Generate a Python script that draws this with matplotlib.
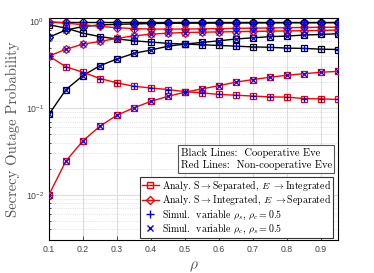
import matplotlib
matplotlib.use("Agg")
import matplotlib.pyplot as plt
import numpy as np
from matplotlib.lines import Line2D

plt.rcParams['mathtext.fontset'] = 'cm'
plt.rcParams['font.family'] = ['Liberation Sans', 'DejaVu Sans']

rho = [0.1, 0.15, 0.2, 0.25, 0.3, 0.35, 0.4, 0.45, 0.5, 0.55, 0.6, 0.65, 0.7, 0.75, 0.8, 0.85, 0.9, 0.95]

# Non-cooperative Eve (red)
red_sq_var_rc = [0.010, 0.0246, 0.042, 0.062, 0.083, 0.101, 0.120, 0.137, 0.153, 0.167, 0.182, 0.200, 0.214, 0.228, 0.240, 0.250, 0.260, 0.266]
red_sq_var_rs = [0.40, 0.30, 0.26, 0.22, 0.196, 0.179, 0.171, 0.164, 0.155, 0.150, 0.144, 0.141, 0.138, 0.135, 0.134, 0.129, 0.128, 0.126]
red_di_var_rc = [0.40, 0.48, 0.55, 0.59, 0.64, 0.685, 0.716, 0.735, 0.748, 0.755, 0.76, 0.765, 0.77, 0.775, 0.78, 0.785, 0.79, 0.80]
red_di_var_rs = [1.00, 0.96, 0.92, 0.88, 0.85, 0.83, 0.82, 0.82, 0.82, 0.825, 0.83, 0.835, 0.84, 0.845, 0.85, 0.855, 0.86, 0.86]

# Cooperative Eve (black)
blk_sq_var_rc = [0.085, 0.164, 0.238, 0.31, 0.37, 0.43, 0.47, 0.52, 0.55, 0.575, 0.60, 0.63, 0.65, 0.67, 0.68, 0.70, 0.71, 0.725]
blk_sq_var_rs = [0.92, 0.84, 0.735, 0.67, 0.63, 0.60, 0.58, 0.56, 0.55, 0.54, 0.53, 0.52, 0.51, 0.505, 0.494, 0.49, 0.48, 0.476]
blk_di_var_rc = [0.66, 0.80, 0.877, 0.915, 0.93, 0.94, 0.95, 0.955, 0.96, 0.96, 0.962, 0.964, 0.966, 0.968, 0.97, 0.97, 0.972, 0.972]
blk_di_var_rs = [1.0, 1.0, 1.0, 1.0, 1.0, 1.0, 1.0, 1.0, 1.0, 1.0, 1.0, 1.0, 1.0, 1.0, 1.0, 1.0, 1.0, 1.0]

xticks = [0.1, 0.2, 0.3, 0.4, 0.5, 0.6, 0.7, 0.8, 0.9]

fig = plt.figure(figsize=(3.74, 2.73), dpi=100)
ax = fig.add_axes([0.131, 0.121, 0.773, 0.813])

ms = 4
def curve(y, color, marker, sim):
    ax.plot(rho, y, color=color, lw=1.0, marker=marker, ms=ms, mfc='none', mec=color, mew=0.9, zorder=3)
    ax.plot(rho, y, ls='none', marker=sim, ms=ms, color='blue', mew=0.9, zorder=4)

curve(blk_sq_var_rc, 'black', 's', 'x')
curve(blk_sq_var_rs, 'black', 's', '+')
curve(blk_di_var_rc, 'black', 'D', 'x')
curve(blk_di_var_rs, 'black', 'D', '+')
curve(red_sq_var_rc, 'red', 's', 'x')
curve(red_sq_var_rs, 'red', 's', '+')
curve(red_di_var_rc, 'red', 'D', 'x')
curve(red_di_var_rs, 'red', 'D', '+')

ax.set_yscale('log')
ax.set_xlim(0.1, 0.95)
ax.set_ylim(3e-3, 1.1)
ax.set_xticks(xticks)
ax.set_xticklabels([f"{v:.1f}" for v in xticks])
ax.tick_params(labelsize=6.3, colors='#333333', direction='in', length=3, width=0.6)
ax.tick_params(which='minor', direction='in', length=1.5, width=0.5)
ax.tick_params(axis='both', labelcolor='#444444')
ax.grid(True, which='major', color='#dddddd', lw=0.8)
ax.grid(True, which='minor', color='#cccccc', lw=0.5, ls=':')
for s in ax.spines.values():
    s.set_linewidth(0.8)

ax.set_ylabel('Secrecy Outage Probability', family='cmr10', fontsize=10.5, color='#555555')
ax.set_xlabel(r'$\rho$', fontsize=11, color='#555555')

ax.text(0.455, 0.365, 'Black Lines:  Cooperative Eve\nRed Lines:  Non-cooperative Eve',
        transform=ax.transAxes, family='cmr10', fontsize=7.6, va='center', ha='left',
        linespacing=1.25,
        bbox=dict(boxstyle='square,pad=0.25', fc='white', ec='#555555', lw=0.8), zorder=6)

handles = [
    Line2D([], [], color='red', marker='s', mfc='none', ms=ms, lw=1.0),
    Line2D([], [], color='red', marker='D', mfc='none', ms=ms, lw=1.0),
    Line2D([], [], color='blue', marker='+', ls='none', ms=6, mew=1.0),
    Line2D([], [], color='blue', marker='x', ls='none', ms=4.5, mew=1.0),
]
labels = [
    r'Analy. S$\rightarrow$Separated, $E$ $\rightarrow$Integrated',
    r'Analy. S$\rightarrow$Integrated, $E$ $\rightarrow$Separated',
    r'Simul.  variable $\rho_s$, $\rho_c=0.5$',
    r'Simul.  variable $\rho_c$, $\rho_s=0.5$',
]
leg = ax.legend(handles, labels, loc='lower right', bbox_to_anchor=(1 - 5/289, 2/222),
                prop={'family': 'cmr10', 'size': 7.1},
                frameon=True, fancybox=False, edgecolor='#333333', framealpha=1,
                handlelength=1.7, handletextpad=0.3, borderpad=0.2, labelspacing=0.0,
                borderaxespad=0)
leg.get_frame().set_linewidth(0.8)
leg.set_zorder(7)

fig.savefig('out.png', dpi=100)
